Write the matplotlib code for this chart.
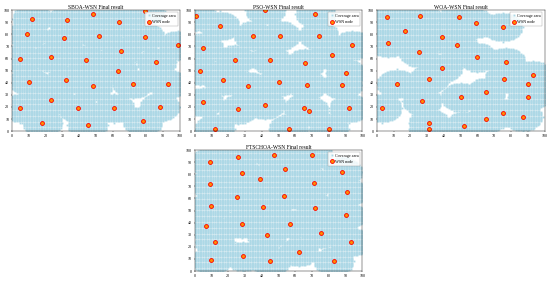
import matplotlib.pyplot as plt
import numpy as np

plt.rcParams['font.family'] = ['Liberation Serif', 'DejaVu Serif']

titles = ["SBOA-WSN Final result", "PSO-WSN Final result",
          "WOA-WSN Final result", "FTSCHOA-WSN Final result"]

# node coordinates
sboa_x = [12, 33, 48, 79, 64, 9, 31, 52, 79, 99, 65, 5, 23, 44, 86, 63, 10, 32,
          48, 72, 93, 23, 5, 39, 61, 88, 18, 45, 78]
sboa_y = [93, 92, 97, 99, 90, 80, 77, 79, 78, 71, 66, 60, 61, 59, 57, 50, 41, 42,
          37, 39, 39, 26, 19, 19, 19, 20, 7, 5, 8]

pso_x = [1, 42, 72, 15, 35, 51, 74, 94, 5, 82, 24, 45, 66, 3, 90, 17, 50, 32,
         67, 88, 5, 42, 26, 65, 68, 92, 12, 56, 80]
pso_y = [95, 100, 97, 87, 79, 79, 79, 71, 69, 63, 59, 59, 56, 50, 48, 42, 41, 37,
         38, 38, 24, 22, 18, 19, 17, 19, 2, 2, 2]

woa_x = [6, 26, 49, 59, 17, 75, 7, 39, 48, 25, 60, 77, 39, 31, 76, 93, 12, 90,
         65, 50, 90, 27, 3, 75, 87, 65, 31, 31, 52]
woa_y = [94, 95, 94, 89, 83, 86, 73, 78, 71, 65, 61, 57, 52, 43, 43, 46, 39, 39,
         32, 28, 28, 25, 19, 15, 12, 10, 7, 2, 4]

ftschoa_x = [9, 26, 47, 70, 54, 88, 28, 39, 9, 71, 91, 25, 53, 10, 41, 72, 90, 7,
             28, 57, 43, 75, 12, 93, 62, 29, 10, 45, 83]
ftschoa_y = [90, 94, 96, 96, 84, 82, 81, 76, 72, 73, 65, 61, 62, 54, 53, 52, 46, 37,
             39, 39, 30, 31, 24, 24, 16, 12, 9, 8, 8]

nodes = [(sboa_x, sboa_y), (pso_x, pso_y), (woa_x, woa_y), (ftschoa_x, ftschoa_y)]
sense_r = 12

gx, gy = np.meshgrid(np.arange(0, 101), np.arange(0, 101))
gx = gx.ravel()
gy = gy.ravel()

fig = plt.figure(figsize=(5.5, 2.82), dpi=100)
boxes = [[0.022, 0.535, 0.305, 0.429],
         [0.354, 0.535, 0.305, 0.429],
         [0.685, 0.535, 0.305, 0.429],
         [0.354, 0.039, 0.305, 0.429]]

for box, title, (nx, ny) in zip(boxes, titles, nodes):
    ax = fig.add_axes(box)
    nx = np.array(nx)
    ny = np.array(ny)
    d2 = (gx[:, None] - nx[None, :]) ** 2 + (gy[:, None] - ny[None, :]) ** 2
    covered = (d2 <= sense_r ** 2).any(axis=1)
    ax.plot(gx[covered], gy[covered], linestyle='none', marker='s',
            markersize=1.3, markeredgewidth=0, color='#add8e6',
            label='Coverage area')
    ax.plot(nx, ny, linestyle='none', marker='o', markersize=2.8,
            markerfacecolor='#ff8c00', markeredgecolor='red',
            markeredgewidth=0.6, label='WSN node')
    ax.set_xlim(0, 100)
    ax.set_ylim(0, 100)
    ax.set_xticks(np.arange(0, 101, 10))
    ax.set_yticks(np.arange(0, 101, 10))
    ax.tick_params(labelsize=3, length=1, width=0.3, pad=1)
    for s in ax.spines.values():
        s.set_linewidth(0.3)
    ax.set_title(title, fontsize=4, pad=1)
    leg = ax.legend(loc='upper right', fontsize=3, frameon=True, fancybox=False,
                    edgecolor='#888888', borderpad=0.4, handletextpad=0.3,
                    handlelength=1, markerscale=1)
    leg.get_frame().set_linewidth(0.3)

fig.savefig('out.png', dpi=100)
